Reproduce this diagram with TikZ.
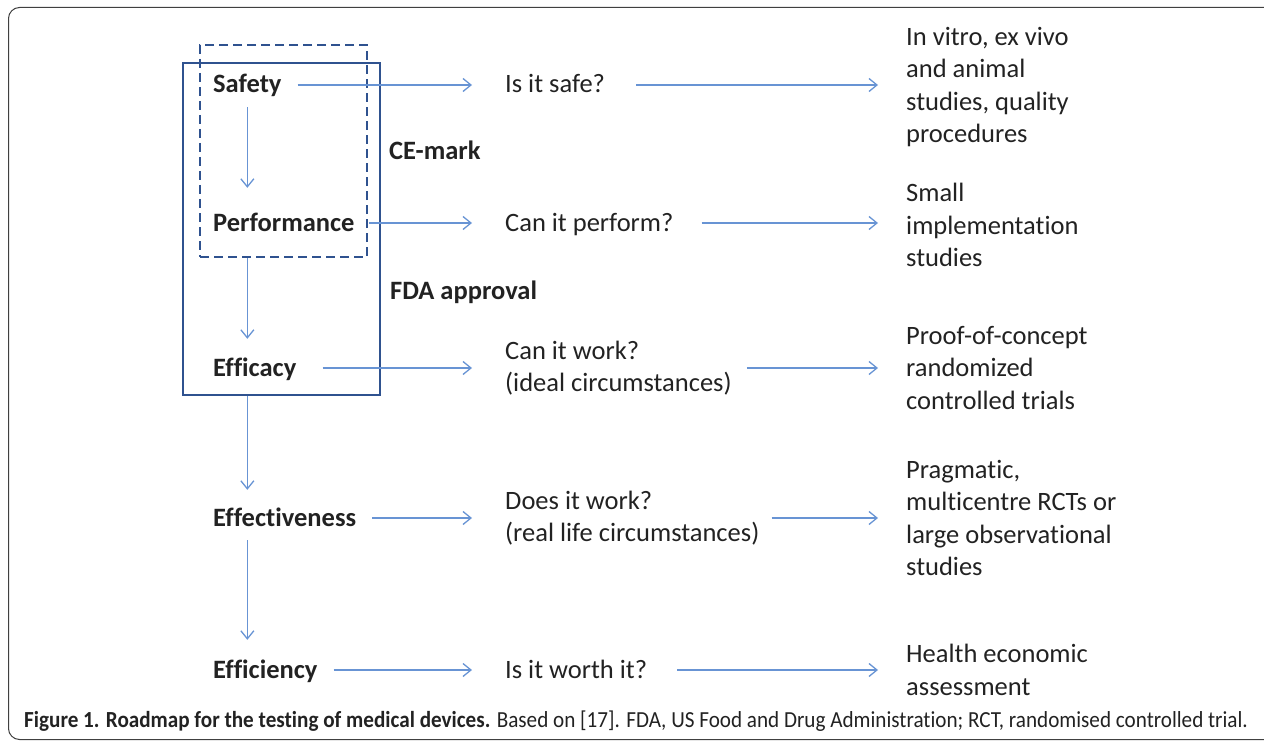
\documentclass[tikz,border=0pt]{standalone}
\usepackage{fontspec}
\setmainfont[Ligatures=NoCommon]{Carlito}
\newfontfamily\capfont[FakeStretch=0.92,Ligatures=NoCommon]{Carlito}
\usetikzlibrary{arrows.meta}
\definecolor{arrowblue}{RGB}{104,148,212}
\definecolor{boxblue}{RGB}{47,82,143}
\definecolor{txtgray}{RGB}{34,34,34}
\newcommand\diagsize{\fontsize{26.5pt}{32.5pt}\selectfont}
\tikzset{stage/.style={%
        anchor=west,
        inner sep=0pt,
        text height=19pt,text depth=3pt,
        font=\diagsize\bfseries,
        text=txtgray}}
\tikzset{quest/.style={anchor=west,inner sep=0pt,align=left,font=\diagsize,text=txtgray}}
\tikzset{oneline/.style={text height=19pt,text depth=3pt}}
\tikzset{regbox/.style={draw=boxblue,line width=2.6pt,inner sep=0pt,
        minimum width=197pt,minimum height=332pt}}
\tikzset{cebox/.style={regbox,dash pattern=on 9pt off 5pt,
        minimum width=167pt,minimum height=212pt}}
\tikzset{link/.style={arrowblue,line width=1.3pt,-{Straight Barb[length=8pt,width=13pt]}}}

\begin{document}
\begin{tikzpicture}[x=1pt,y=-1pt]
  \useasboundingbox (0,0) rectangle (1264,741);
  \clip (0,0) rectangle (1264,741);
  \draw [black!75,line width=1pt,rounded corners=11pt] (8.5,7.5) rectangle (1290,739.5);

  \node [regbox] (fda) at (281.5,229) {};
  \node [cebox] (ce) at (283.5,151) {};

  \node [stage] (safety) at (213,85) {Safety};
  \node [stage] (perf) at (213,223) {Performance};
  \node [stage] (efficacy) at (213,368) {Efficacy};
  \node [stage] (effect) at (213,518) {Effectiveness};
  \node [stage] (effic) at (213,670) {Efficiency};

  \node [stage] (cemark) at (389,152) {CE-mark};
  \node [stage] (fdaok) at (390,291) {FDA approval};

  \node [quest,oneline] (q1) at (505,85) {Is it safe?};
  \node [quest,oneline] (q2) at (505,223) {Can it perform?};
  \node [quest] (q3) at (505,368) {Can it work?\\(ideal circumstances)};
  \node [quest] (q4) at (505,518) {Does it work?\\(real life circumstances)};
  \node [quest,oneline] (q5) at (505,670) {Is it worth it?};

  \node [quest] (s1) at (906,87) {In vitro, ex vivo\\and animal\\studies, quality\\procedures};
  \node [quest] (s2) at (906,225) {Small\\implementation\\studies};
  \node [quest] (s3) at (906,368) {Proof-of-concept\\randomized\\controlled trials};
  \node [quest] (s4) at (906,518) {Pragmatic,\\multicentre RCTs or\\large observational\\studies};
  \node [quest] (s5) at (906,670) {Health economic\\assessment};

  \draw [link,shorten <=11pt,shorten >=24pt] (safety.south) -- (safety.south |- perf.north);
  \draw [link,shorten >=18pt] (safety.south |- ce.south) -- (safety.south |- efficacy.north);
  \draw [link,shorten >=17pt] (safety.south |- fda.south) -- (safety.south |- effect.north);
  \draw [link,shorten <=11pt,shorten >=19pt] (safety.south |- effect.south) -- (safety.south |- effic.north);

  \draw [link,shorten <=16pt,shorten >=33pt] (safety) -- (q1);
  \draw [link,shorten <=14pt,shorten >=33pt] (perf) -- (q2);
  \draw [link,shorten <=26pt,shorten >=33pt] (efficacy) -- (q3);
  \draw [link,shorten <=16pt,shorten >=33pt] (effect) -- (q4);
  \draw [link,shorten <=16pt,shorten >=33pt] (effic) -- (q5);

  \draw [link,shorten <=31pt,shorten >=28pt] (q1.east) -- (q1.east -| s1.west);
  \draw [link,shorten <=28pt,shorten >=28pt] (q2.east) -- (q2.east -| s2.west);
  \draw [link,shorten <=15pt,shorten >=28pt] (q3) -- (s3);
  \draw [link,shorten <=12pt,shorten >=28pt] (q4) -- (s4);
  \draw [link,shorten <=30pt,shorten >=28pt] (q5) -- (s5);

  \node [anchor=base west,inner sep=0pt,text=txtgray,font=\capfont\fontsize{23pt}{27pt}\selectfont] (caption) at (24,727)
    {\textbf{Figure 1. Roadmap for the testing of medical devices.} Based on [17]. FDA, US Food and Drug Administration; RCT, randomised controlled trial.};
\end{tikzpicture}
\end{document}
